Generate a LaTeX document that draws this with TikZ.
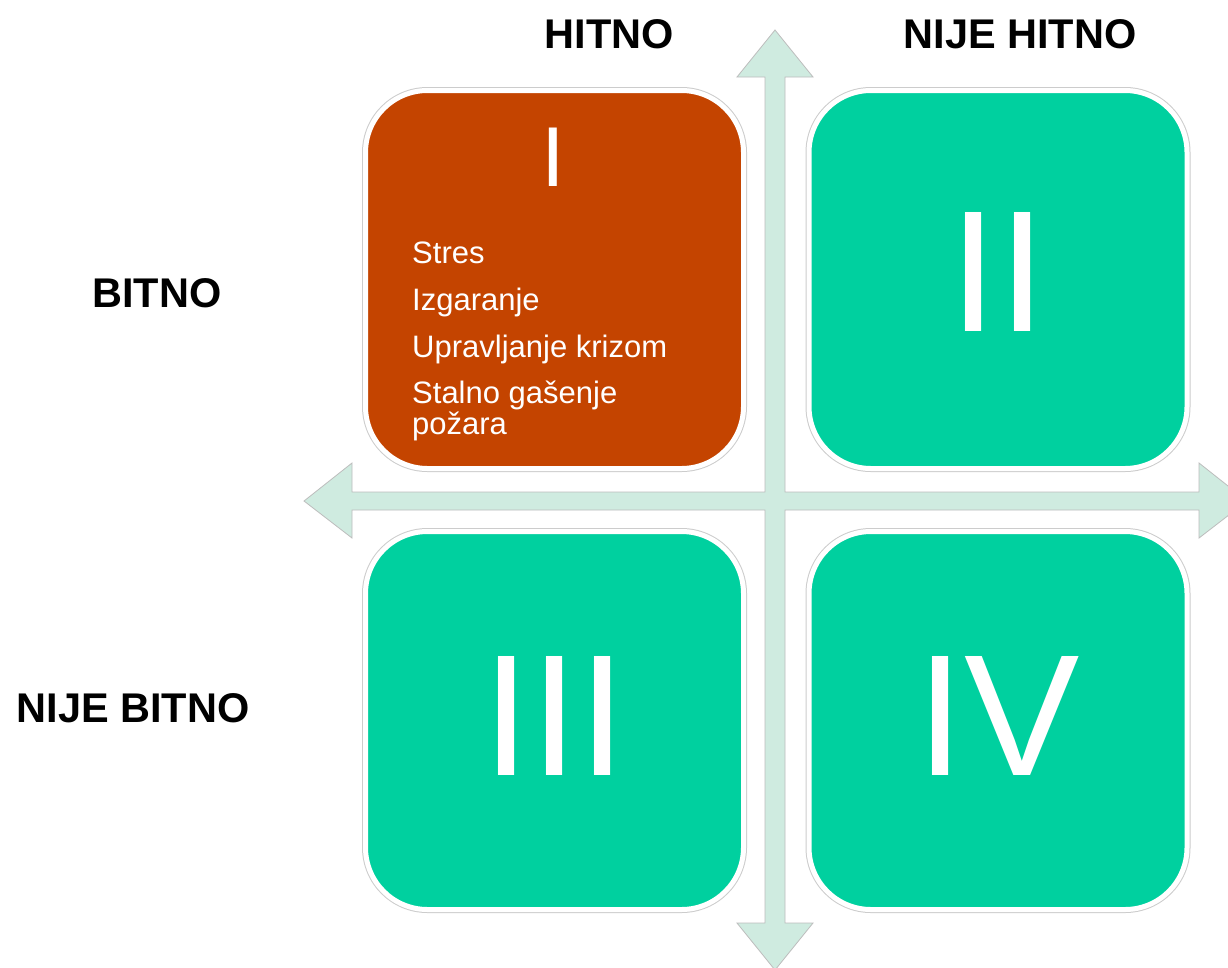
\documentclass[tikz,border=0pt]{standalone}
\usepackage{fontspec}
\setmainfont{Liberation Sans}
\definecolor{quadorange}{HTML}{C44400}
\definecolor{quadteal}{HTML}{00D09F}
\definecolor{arrowfill}{HTML}{CFEBE0}
\definecolor{arrowline}{HTML}{BDBDBD}
\tikzset{
  quad/.style={minimum width=378pt, minimum height=378pt, rounded corners=62pt,
    draw=white, line width=5pt, inner sep=0pt,
    preaction={draw=black!20, line width=7pt}},
  axislabel/.style={font=\fontsize{41.5}{41.5}\selectfont\bfseries, text=black, anchor=base, inner sep=0pt},
  numeral/.style={text=white, anchor=base, inner sep=0pt},
  itemtext/.style={font=\fontsize{31}{32}\selectfont, text=white, anchor=base west, inner sep=0pt},
}
\begin{document}
\begin{tikzpicture}[x=1pt, y=-1pt]
\useasboundingbox (0,0) rectangle (1228,967);
\fill[white] (0,0) rectangle (1228,967);
% cross of arrows
\draw[fill=arrowfill, draw=arrowline, line width=0.8pt, line join=miter]
  (775,30) -- (813,77) -- (785,77) -- (785,492) -- (1199,492) -- (1199,463) -- (1247,501)
  -- (1199,538) -- (1199,510) -- (785,510) -- (785,923) -- (813,923) -- (775,970)
  -- (737,923) -- (765,923) -- (765,510) -- (352,510) -- (352,538) -- (304,501)
  -- (352,463) -- (352,492) -- (765,492) -- (765,77) -- (737,77) -- cycle;
% quadrants
\node[quad, fill=quadorange] (q1) at (554.5,279.5) {};
\node[quad, fill=quadteal] (q2) at (998,279.5) {};
\node[quad, fill=quadteal] (q3) at (554.5,720.5) {};
\node[quad, fill=quadteal] (q4) at (998,720.5) {};
% numerals
\node[numeral, font=\fontsize{85}{85}\selectfont] (n1) at (553,186) {I};
\node[numeral, font=\fontsize{173}{173}\selectfont] (n2) at (998,331) {II};
\node[numeral, font=\fontsize{173}{173}\selectfont] (n3) at (554.5,775) {III};
\node[numeral, font=\fontsize{173}{173}\selectfont] (n4) at (998,775) {IV};
% items
\node[itemtext] (t1) at (412,263) {Stres};
\node[itemtext] (t2) at (412,310) {Izgaranje};
\node[itemtext] (t3) at (412,357) {Upravljanje krizom};
\node[itemtext] (t4) at (412,403) {Stalno gašenje};
\node[itemtext] (t5) at (412,434) {požara};
% axis labels
\node[axislabel] (h1) at (609.5,48) {HITNO};
\node[axislabel] (h2) at (1020,48) {NIJE HITNO};
\node[axislabel] (b1) at (157,307) {BITNO};
\node[axislabel] (b2) at (133,722) {NIJE BITNO};
\end{tikzpicture}
\end{document}
